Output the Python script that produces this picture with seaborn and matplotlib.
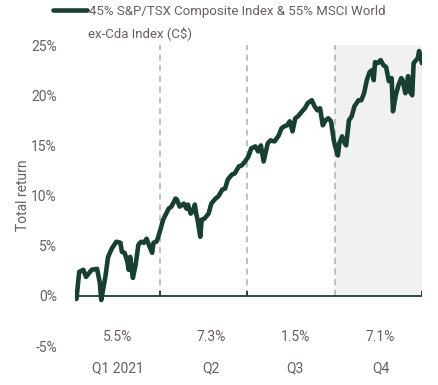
import matplotlib
matplotlib.use("Agg")
import matplotlib.pyplot as plt
import seaborn as sns
import pandas as pd

# trading days into 2021 and cumulative total return (%)
days = [0, 1, 3, 6, 8, 12, 16, 18, 19, 22, 24, 27, 30, 33, 34, 36, 38, 39, 40, 42,
        44, 46, 48, 50, 52, 53, 56, 57, 59, 60, 62, 64, 68, 70, 73, 74, 76, 79, 81, 82,
        84, 86, 87, 88, 89, 91, 92, 94, 97, 99, 102, 104, 107, 109, 111, 114, 116, 119, 121, 123,
        126, 128, 131, 133, 135, 137, 140, 142, 145, 148, 150, 152, 154, 156, 158, 160, 162, 165, 167, 169,
        172, 174, 176, 178, 180, 182, 184, 186, 188, 189, 191, 192, 194, 196, 197, 199, 201, 203, 206, 208,
        210, 212, 214, 216, 217, 218, 220, 222, 224, 226, 228, 230, 231, 233, 235, 237, 238, 240, 242, 243,
        245, 246, 249, 250, 252]
returns = [0.0, -0.3, 2.4, 2.6, 1.9, 2.6, 2.7, 1.3, -0.4, 1.9, 3.9, 4.8, 5.4, 5.3, 4.4, 4.3, 3.4, 2.6, 3.9, 1.8,
           3.1, 5.1, 5.4, 5.3, 5.7, 5.3, 4.3, 5.3, 5.4, 5.7, 6.6, 7.6, 8.7, 8.9, 9.7, 9.6, 8.9, 9.2, 8.7, 9.1,
           8.2, 8.6, 9.1, 8.2, 7.6, 5.9, 7.6, 7.7, 8.2, 9.2, 9.7, 9.9, 10.6, 10.7, 11.6, 12.1, 12.2, 12.9, 13.0, 13.3,
           13.9, 14.7, 14.9, 14.4, 15.0, 13.4, 15.2, 15.5, 15.4, 16.0, 16.7, 16.9, 17.0, 17.4, 16.4, 17.7, 17.9, 18.4, 18.7, 19.2,
           19.5, 18.9, 18.5, 18.7, 17.0, 17.5, 17.7, 17.4, 15.5, 14.9, 14.0, 15.2, 15.9, 15.2, 15.0, 17.5, 17.9, 18.9, 19.5, 19.5,
           20.2, 21.5, 22.3, 22.5, 21.5, 23.3, 23.2, 23.5, 23.0, 22.8, 21.4, 21.7, 18.4, 20.0, 21.0, 21.7, 21.5, 20.2, 21.9, 20.4,
           20.0, 23.2, 23.7, 24.4, 23.2]

quarter_bounds = [0, 62, 125, 189, 252]
quarter_labels = ["Q1 2021", "Q2", "Q3", "Q4"]
quarter_label_pos = [31, 99, 160, 222]
quarter_returns = ["5.5%", "7.3%", "1.5%", "7.1%"]
series_name = "45% S&P/TSX Composite Index & 55% MSCI World"
series_name_2 = "ex-Cda Index (C$)"

line_color = "#173f32"
text_color = "#675f5c"

sns.set_style("white")
plt.rcParams["font.family"] = ["Roboto", "DejaVu Sans"]
fs = 9.5

df = pd.DataFrame({"day": days, "ret": returns})

fig = plt.figure(figsize=(4.39, 3.85), dpi=100)
ax = fig.add_axes([0.171, 0.101, 0.79, 0.782])

# shaded Q4 and dashed quarter separators
ax.fill_between([quarter_bounds[3], quarter_bounds[4]], 0, 25, color="#f1f1f1", lw=0, zorder=0)
ax.vlines(quarter_bounds[1:4], 0, 25, colors="#a9b3b1", linestyles=(0, (4, 3)), lw=1.1, zorder=1)

sns.lineplot(data=df, x="day", y="ret", color=line_color, lw=3.3, ax=ax, label=series_name, zorder=3)

# zero line with small ticks at quarter boundaries
ax.hlines(0, quarter_bounds[0], quarter_bounds[-1], colors=line_color, lw=1.3, zorder=2)
ax.vlines([quarter_bounds[0], quarter_bounds[1], quarter_bounds[2], quarter_bounds[4]],
          0, 0.5, colors=line_color, lw=1.3, zorder=2)

for pos, txt in zip(quarter_label_pos, quarter_returns):
    ax.text(pos, -4.1, txt, ha="center", va="center", fontsize=fs + 0.5, color=text_color)

ax.set_xlim(quarter_bounds[0], quarter_bounds[-1])
ax.set_ylim(-5, 25)
ax.set_yticks(range(-5, 30, 5))
ax.set_yticklabels([f"{v}%" for v in range(-5, 30, 5)])
ax.set_xticks(quarter_label_pos)
ax.set_xticklabels(quarter_labels)
ax.tick_params(axis="both", length=0, labelsize=fs + 0.5, labelcolor=text_color)
ax.tick_params(axis="y", pad=13)
ax.tick_params(axis="x", pad=11)
ax.set_xlabel("")
ax.set_ylabel("Total return", fontsize=fs + 0.5, color=text_color)
ax.yaxis.set_label_coords(-0.13, 0.5)
sns.despine(ax=ax, left=True, bottom=True)

ax.get_legend().remove()
leg = fig.legend(loc="upper left", bbox_to_anchor=(53 / 439, 1 - 5 / 385), frameon=False,
                 fontsize=fs, handlelength=2.6, handletextpad=0.1, borderpad=0, borderaxespad=0)
for t in leg.get_texts():
    t.set_color(text_color)
fig.text(88 / 439, 1 - 33 / 385, series_name_2, fontsize=fs, color=text_color, va="center")

fig.savefig("out.png", dpi=100)
